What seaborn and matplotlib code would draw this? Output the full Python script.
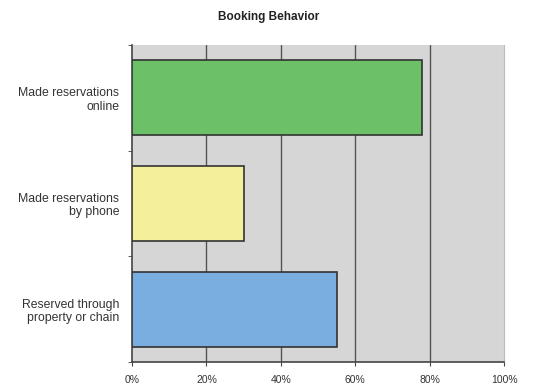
import matplotlib
matplotlib.use("Agg")
import matplotlib.pyplot as plt
import seaborn as sns
import pandas as pd
import numpy as np

# data
categories = ['Made reservations\nonline', 'Made reservations\nby phone', 'Reserved through\nproperty or chain']
percent = [78, 30, 55]
bar_colors = ['#6cc068', '#f4ef9a', '#7aaee0']
xticks = [0, 20, 40, 60, 80, 100]

df = pd.DataFrame({'category': categories, 'percent': percent})

sns.set_style('white')
plt.rcParams['font.family'] = ['Liberation Sans', 'DejaVu Sans']

fig = plt.figure(figsize=(5.49, 3.85), dpi=100)
ax = fig.add_axes([0.2404, 0.0597, 0.678, 0.823])
ax.set_facecolor('#d6d6d6')

sns.barplot(data=df, x='percent', y='category', hue='category', palette=bar_colors,
            saturation=1, orient='h', width=0.71, edgecolor='#333333', linewidth=1.2,
            legend=False, ax=ax, zorder=3)

ax.set_xlim(0, 100)
ax.set_ylim(2.5, -0.5)
ax.set_xticks(xticks)
ax.set_xticklabels([f'{t}%' for t in xticks], fontsize=7.5, color='#333333')
for t in xticks[1:-1]:
    ax.axvline(t, color='#555555', linewidth=1.0, zorder=1)

ax.set_yticks(range(len(categories)))
ax.set_yticklabels(categories, fontsize=8.8, color='#333333', linespacing=1.15)
ax.tick_params(axis='y', length=0, pad=9)
ax.set_yticks([-0.5, 0.5, 1.5, 2.5], minor=True)
ax.tick_params(axis='y', which='minor', length=3, color='#444444', left=True)
ax.tick_params(axis='x', length=3, color='#444444', bottom=True, pad=6)

ax.set_xlabel('')
ax.set_ylabel('')
ax.spines['top'].set_visible(False)
ax.spines['right'].set_color('#bbbbbb')
ax.spines['left'].set_color('#444444')
ax.spines['bottom'].set_color('#444444')
ax.spines['left'].set_linewidth(1.2)
ax.spines['bottom'].set_linewidth(1.2)

fig.text(0.49, 0.955, 'Booking Behavior', fontsize=8.5, fontweight='bold',
         ha='center', va='center', color='#222222')

fig.savefig('out.png', dpi=100, facecolor='white')
